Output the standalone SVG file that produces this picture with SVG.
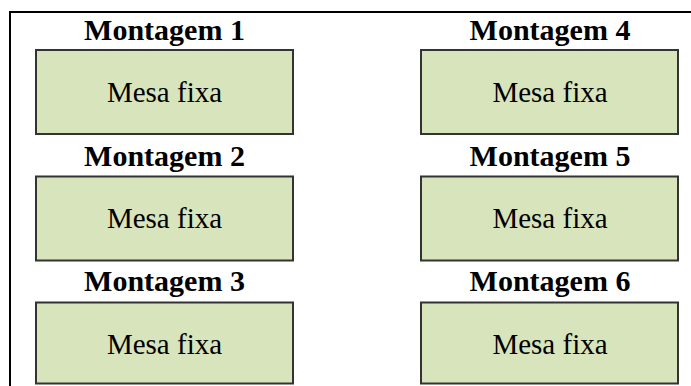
<svg xmlns="http://www.w3.org/2000/svg" width="691" height="386" viewBox="0 0 691 386">
<style>
.frame{fill:none;stroke:#000;stroke-width:2}
.box{fill:#d7e4bc;stroke:#333;stroke-width:2}
.lbl{font-family:"Liberation Serif","Times New Roman",serif;font-weight:bold;font-size:30px;fill:#000;text-anchor:middle}
.txt{font-family:"Liberation Serif","Times New Roman",serif;font-size:29px;fill:#000;text-anchor:middle}
</style>
<rect width="691" height="386" fill="#fff"/>
<rect class="frame" x="10" y="12" width="700" height="400"/>
<g id="m1"><text class="lbl" x="164.5" y="40">Montagem 1</text><rect class="box" x="36" y="50" width="257" height="84"/><text class="txt" x="164.5" y="101.5">Mesa fixa</text></g>
<g id="m2"><text class="lbl" x="164.5" y="166">Montagem 2</text><rect class="box" x="36" y="176.5" width="257" height="84"/><text class="txt" x="164.5" y="228">Mesa fixa</text></g>
<g id="m3"><text class="lbl" x="164.5" y="291">Montagem 3</text><rect class="box" x="36" y="302.5" width="257" height="81"/><text class="txt" x="164.5" y="354">Mesa fixa</text></g>
<g id="m4"><text class="lbl" x="550" y="40">Montagem 4</text><rect class="box" x="421" y="50" width="257" height="84"/><text class="txt" x="550" y="101.5">Mesa fixa</text></g>
<g id="m5"><text class="lbl" x="550" y="166">Montagem 5</text><rect class="box" x="421" y="176.5" width="257" height="84"/><text class="txt" x="550" y="228">Mesa fixa</text></g>
<g id="m6"><text class="lbl" x="550" y="291">Montagem 6</text><rect class="box" x="421" y="302.5" width="257" height="81"/><text class="txt" x="550" y="354">Mesa fixa</text></g>
<g id="connectors"/>
</svg>
